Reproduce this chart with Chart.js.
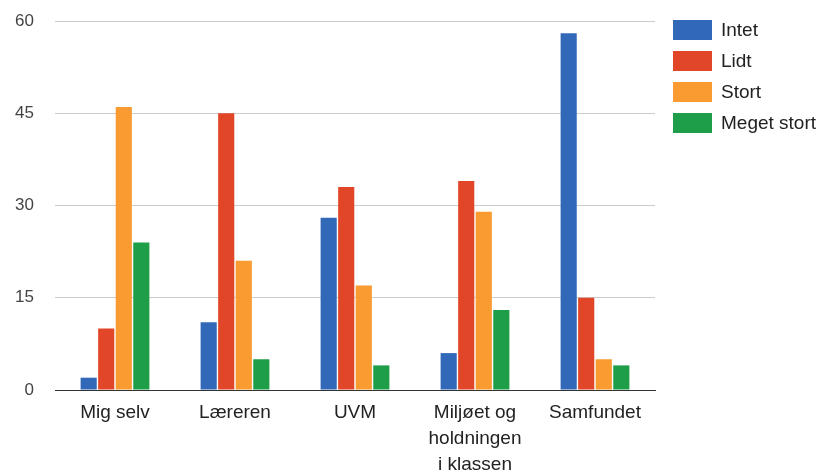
<!DOCTYPE html>
<html>
<head>
<meta charset="utf-8">
<script src="https://cdn.jsdelivr.net/npm/chart.js@4"></script>
<style>
    html, body { margin: 0; padding: 0; background: #fff; }
    #wrap { width: 820px; height: 473px; position: relative; }
</style>
</head>
<body>
<div id="wrap"><canvas id="chart"></canvas></div>
<script>
// Data
const categories = ['Mig selv', 'Læreren', 'UVM', ['Miljøet og', 'holdningen', 'i klassen'], 'Samfundet']
const seriesNames = ['Intet', 'Lidt', 'Stort', 'Meget stort']
const intet = [2, 11, 28, 6, 58]
const lidt = [10, 45, 33, 34, 15]
const stort = [46, 21, 17, 29, 5]
const megetStort = [24, 5, 4, 13, 4]
const yTicks = [0, 15, 30, 45, 60]

const colors = ['#3268b8', '#e14628', '#f99b30', '#1f9e4a']
const FONT = 'Arial, "Liberation Sans", sans-serif'

// simple legend on the right, drawn from the datasets
const sideLegend = {
    id: 'sideLegend',
    afterDraw(chart) {
        const ctx = chart.ctx
        ctx.save()
        ctx.font = '19px ' + FONT
        ctx.textBaseline = 'middle'
        chart.data.datasets.forEach((ds, i) => {
            const top = 20 + i * 31
            ctx.fillStyle = ds.backgroundColor
            ctx.fillRect(673, top, 39, 20)
            ctx.fillStyle = '#222'
            ctx.fillText(ds.label, 721, top + 11)
        })
        ctx.restore()
    }
}

const values = [intet, lidt, stort, megetStort]

new Chart(document.getElementById('chart'), {
    type: 'bar',
    data: {
        labels: categories,
        datasets: seriesNames.map((name, i) => ({
            label: name,
            data: values[i],
            backgroundColor: colors[i],
            borderWidth: 0,
            categoryPercentage: 0.585,
            barPercentage: 0.92
        }))
    },
    plugins: [sideLegend],
    options: {
        responsive: true,
        maintainAspectRatio: false,
        animation: false,
        layout: {
            autoPadding: false,
            padding: {top: 21, right: 165, left: 0, bottom: 0}
        },
        plugins: {
            legend: {display: false},
            tooltip: {enabled: false}
        },
        scales: {
            x: {
                grid: {display: false},
                border: {color: '#333', width: 1},
                ticks: {
                    color: '#222',
                    padding: 2,
                    font: {family: FONT, size: 19, lineHeight: 1.37},
                    maxRotation: 0,
                    autoSkip: false
                },
                afterFit: (scale) => { scale.height = 83 }
            },
            y: {
                min: 0,
                max: 60,
                afterBuildTicks: (scale) => { scale.ticks = yTicks.map(v => ({value: v})) },
                grid: {
                    color: (c) => c.tick && c.tick.value === 0 ? '#333' : '#ccc',
                    drawTicks: false
                },
                border: {display: false},
                ticks: {
                    color: '#444',
                    padding: 21,
                    font: {family: FONT, size: 17}
                },
                afterFit: (scale) => {
                    scale.width = 55
                    // tick padding would otherwise push the plot top down
                    scale.paddingTop = 0
                    scale.paddingBottom = 0
                }
            }
        }
    }
})
</script>
</body>
</html>
